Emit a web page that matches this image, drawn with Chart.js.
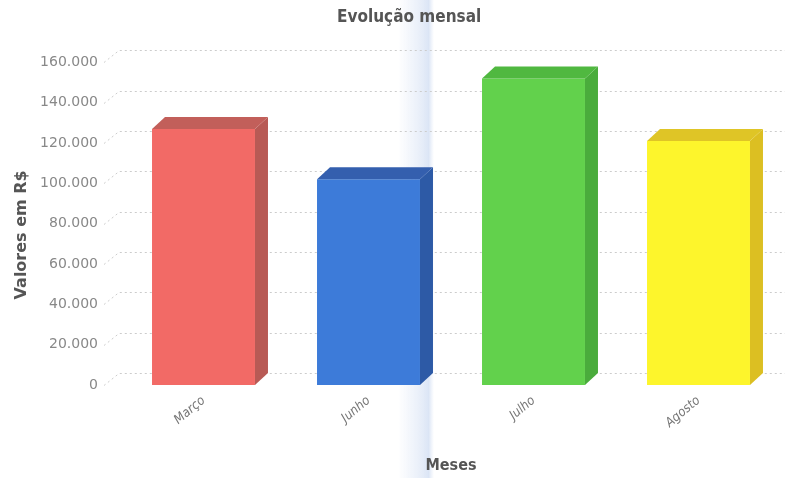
<!DOCTYPE html>
<html>
<head>
<meta charset="utf-8">
<script src="https://cdn.jsdelivr.net/npm/chart.js"></script>
<style>
  html, body { margin: 0; padding: 0; background: #fff; }
  #wrap { width: 795px; height: 478px; }
</style>
</head>
<body>
<div id="wrap"><canvas id="grafico"></canvas></div>
<script>
// Monthly totals (R$)
const meses = ['Março', 'Junho', 'Julho', 'Agosto'];
const valores = [127000, 102000, 152000, 121000];

// Axis range
const yMin = 0;
const yMax = 160000;
const yStep = 20000;

// Face colours for each bar: front, side, top
const corFrente = ['#f26a66', '#3d7bd9', '#62d14c', '#fdf52c'];
const corLado = ['#b85a55', '#2d5aa6', '#4aac3c', '#dcbf22'];
const corTopo = ['#c25f5a', '#345fae', '#50b840', '#dfc526'];

const PROF_X = 13;   // depth of the 3D extrusion
const PROF_Y = -12;

function fmtMilhar(v) {
  return String(v).replace(/\B(?=(\d{3})+(?!\d))/g, '.');
}

// faint vertical band behind the plot
const faixa = {
  id: 'faixa',
  beforeDraw(chart) {
    const { ctx, height } = chart;
    const g = ctx.createLinearGradient(398, 0, 434, 0);
    g.addColorStop(0, 'rgba(200,215,240,0)');
    g.addColorStop(0.6, 'rgba(200,215,240,0.4)');
    g.addColorStop(0.85, 'rgba(190,208,238,0.55)');
    g.addColorStop(1, 'rgba(200,215,240,0)');
    ctx.save();
    ctx.fillStyle = g;
    ctx.fillRect(398, 0, 36, height);
    ctx.restore();
  }
};

// dotted grid on the back wall, with a slanted lead-in from each tick
const gradeFundo = {
  id: 'gradeFundo',
  beforeDatasetsDraw(chart) {
    const { ctx, chartArea, scales } = chart;
    const y = scales.y;
    ctx.save();
    ctx.strokeStyle = '#cccccc';
    ctx.lineWidth = 1;
    ctx.setLineDash([2, 3]);
    y.ticks.forEach(t => {
      const py = Math.round(y.getPixelForValue(t.value)) + 0.5;
      ctx.beginPath();
      ctx.moveTo(chartArea.left - 17, py);
      ctx.lineTo(chartArea.left - 2, py + PROF_Y);
      ctx.lineTo(chartArea.right + 4, py + PROF_Y);
      ctx.stroke();
    });
    ctx.restore();
  }
};

// side and top faces of each bar
const barras3d = {
  id: 'barras3d',
  afterDatasetsDraw(chart) {
    const { ctx } = chart;
    const meta = chart.getDatasetMeta(0);
    ctx.save();
    meta.data.forEach((bar, i) => {
      const x1 = bar.x - bar.width / 2;
      const x2 = bar.x + bar.width / 2;
      const top = bar.y;
      const base = bar.base;
      ctx.fillStyle = corLado[i];
      ctx.beginPath();
      ctx.moveTo(x2, top);
      ctx.lineTo(x2 + PROF_X, top + PROF_Y);
      ctx.lineTo(x2 + PROF_X, base + PROF_Y);
      ctx.lineTo(x2, base);
      ctx.closePath();
      ctx.fill();
      ctx.fillStyle = corTopo[i];
      ctx.beginPath();
      ctx.moveTo(x1, top);
      ctx.lineTo(x1 + PROF_X, top + PROF_Y);
      ctx.lineTo(x2 + PROF_X, top + PROF_Y);
      ctx.lineTo(x2, top);
      ctx.closePath();
      ctx.fill();
    });
    ctx.restore();
  }
};

new Chart(document.getElementById('grafico'), {
  type: 'bar',
  data: {
    labels: meses,
    datasets: [{
      data: valores,
      backgroundColor: corFrente,
      borderWidth: 0,
      categoryPercentage: 1,
      barPercentage: 0.624
    }]
  },
  options: {
    responsive: true,
    maintainAspectRatio: false,
    animation: false,
    layout: { padding: { left: 0, right: 14, top: 0, bottom: 3 } },
    plugins: {
      legend: { display: false },
      tooltip: { enabled: false },
      title: {
        display: true,
        text: '       Evolução mensal',
        color: '#555',
        font: { family: 'DejaVu Sans Condensed', size: 17, weight: 'bold' },
        padding: { top: 7, bottom: 35 }
      }
    },
    scales: {
      x: {
        grid: { display: false, drawTicks: false },
        border: { display: false },
        ticks: {
          color: '#777',
          font: { family: 'DejaVu Sans Condensed', size: 13, style: 'italic' },
          minRotation: 40,
          maxRotation: 40,
          padding: 8
        },
        title: {
          display: true,
          text: 'Meses',
          color: '#555',
          font: { family: 'DejaVu Sans Condensed', size: 16, weight: 'bold' },
          padding: { top: 0, bottom: 0 }
        },
        afterFit(s) { s.height = 90; }
      },
      y: {
        min: yMin,
        max: yMax,
        grid: { display: false, drawTicks: false },
        border: { display: false },
        ticks: {
          stepSize: yStep,
          color: '#888',
          padding: 23,
          font: { family: 'DejaVu Sans', size: 14 },
          callback: v => fmtMilhar(v)
        },
        title: {
          display: true,
          text: 'Valores em R$    ',
          color: '#555',
          font: { family: 'DejaVu Sans', size: 16, weight: 'bold' },
          padding: { top: 12, bottom: 0 }
        },
        afterFit(s) { s.width = 121; }
      }
    }
  },
  plugins: [faixa, gradeFundo, barras3d]
});
</script>
</body>
</html>
